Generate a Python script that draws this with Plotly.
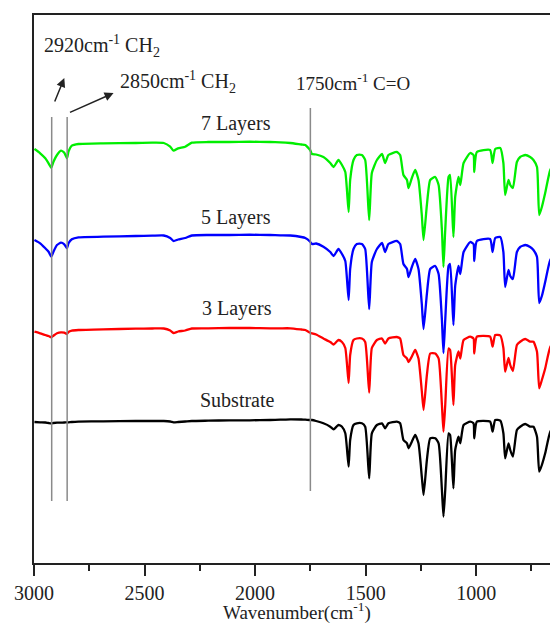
import plotly.graph_objects as go

# Wavenumber grid (cm-1)
wavenumber = [
    2998, 2972, 2949, 2934, 2922, 2912, 2896, 2878, 2863, 2851,
    2844, 2829, 2799, 2687, 2540, 2465, 2413, 2384, 2369, 2348,
    2316, 2286, 2212, 2117, 2024, 1932, 1886, 1841, 1791, 1773,
    1751, 1743, 1724, 1691, 1660, 1645, 1623, 1607, 1592, 1577,
    1570, 1555, 1540, 1517, 1502, 1484, 1472, 1449, 1426, 1412,
    1397, 1359, 1344, 1329, 1313, 1306, 1291, 1276, 1261, 1246,
    1238, 1223, 1208, 1185, 1170, 1155, 1148, 1140, 1125, 1118,
    1103, 1095, 1080, 1072, 1057, 1027, 1012, 1009, 997, 937,
    926, 914, 891, 877, 869, 854, 846, 834, 816, 801,
    778, 756, 741, 725, 715, 703, 688, 665, 643, 629,
]

# Offset transmittance (a.u.) of each spectrum
substrate = [
    141, 140.7, 140.5, 140, 139.7, 140, 140.3, 140.3, 140.5, 140.7,
    140.7, 141, 141.3, 141.7, 142, 142, 142, 141.5, 140.7, 141,
    141.5, 142, 142.3, 142.7, 142.7, 143, 143.3, 143.7, 143.5, 143.3,
    143, 143, 142, 139.7, 136.3, 133.7, 138, 136.3, 129.7, 96.3,
    123, 138, 139.7, 139.7, 136.3, 84.7, 129.7, 138, 139.7, 134.7,
    139.7, 141.3, 139.7, 123, 119.7, 114.7, 121.3, 128, 119.7, 86.3,
    68, 103, 124.7, 124.7, 119.7, 73, 46.3, 73, 129.7, 128,
    74.7, 113, 126.3, 119.7, 138, 141.3, 139.7, 124.7, 141.3, 141.3,
    131.3, 143, 142.3, 129.7, 104.7, 119.7, 113, 106.3, 133, 136.3,
    139, 136.3, 136.3, 126.3, 91.3, 98, 109.7, 131.3, 136.3, 138,
]
layers_3 = [
    231.3, 229.7, 228, 227, 225.7, 227.3, 229.7, 230.7, 230.3, 229,
    231, 232.3, 233, 233.7, 234.3, 234.5, 234.5, 232.5, 230, 231.5,
    232.5, 234.5, 234.7, 235, 235, 234.7, 234.7, 234.7, 233.5, 233,
    230.3, 229.7, 228.5, 224.5, 221, 218.5, 223, 221, 215, 180,
    208, 223, 224.5, 224.5, 221, 170.3, 215, 223, 224.5, 219.5,
    224.5, 226, 224.5, 208, 204.5, 201, 206.5, 213, 204.5, 172,
    153, 188, 209.5, 209.5, 204.5, 158, 131.3, 158, 214.5, 213,
    158, 198, 211.5, 204.5, 223, 226.3, 224.5, 209.5, 226.3, 226.3,
    216.3, 228, 227.5, 215, 191.3, 205, 198, 192, 218, 221.3,
    224, 221.3, 221.3, 211.3, 174.7, 183, 194.5, 216, 221, 218,
]
layers_5 = [
    323, 319.7, 314.7, 311.3, 306.3, 311.3, 318, 320.3, 318.7, 314.7,
    319.7, 323.7, 325.7, 326.3, 327, 327.3, 327.5, 325, 322, 323.5,
    325, 327.5, 328, 328, 328.3, 328, 327.7, 327.5, 326, 325,
    321.3, 319, 319.5, 316.3, 311, 307, 314, 309, 302, 263,
    294, 314, 319, 319, 314, 254, 301, 314, 320, 311,
    319, 322, 319, 299, 294, 286, 296, 304, 294, 259,
    234, 269, 294, 297, 289, 243, 210, 243, 297, 299,
    238, 277, 297, 289, 311, 321, 319, 302, 322, 324,
    311, 325, 326, 311, 276, 293, 287, 284, 311, 316,
    318, 316, 313, 306, 260, 267, 281, 303, 308, 306,
]
layers_7 = [
    414, 409.7, 404.7, 399.7, 395.3, 401.3, 408, 412.3, 410.3, 404.7,
    411.3, 417.3, 419, 419.7, 420, 420.3, 420, 416.3, 412.3, 414.7,
    416.3, 420.3, 421, 421, 421.3, 421, 420.7, 420, 418.5, 418,
    413, 409, 408.5, 406, 400, 396, 403, 398, 391, 351,
    383, 403, 408, 408, 403, 343, 390, 403, 409, 400,
    408, 411, 408, 388, 383, 375, 385, 393, 383, 348,
    323, 358, 383, 386, 378, 333, 296, 333, 386, 388,
    326, 366, 386, 378, 400, 410, 408, 391, 411, 413,
    400, 414, 415, 400, 368, 383, 378, 375, 401, 406,
    408, 406, 403, 396, 348, 356, 370, 393, 400, 400,
]

series_names = ["Substrate", "3 Layers", "5 Layers", "7 Layers"]
series_values = [substrate, layers_3, layers_5, layers_7]
series_colors = ["#000000", "#ff0000", "#0000ff", "#00ee00"]
label_wn = [2080, 2084, 2088, 2088]
label_y = [163, 255, 346, 440]

# Marker lines (wavenumber, bottom, top)
band_wn = [2920, 2850, 1750]
band_low = [62, 62, 72]
band_high = [446, 446, 455]

for v in series_values:
    assert len(v) == len(wavenumber)

FONT = "Liberation Serif, Times New Roman, serif"

fig = go.Figure()
for name, vals, col in zip(series_names, series_values, series_colors):
    fig.add_trace(go.Scatter(
        x=wavenumber, y=vals, mode="lines", name=name,
        line=dict(color=col, width=2.3, shape="spline", smoothing=0.5),
        showlegend=False,
    ))

for wn, lo, hi in zip(band_wn, band_low, band_high):
    fig.add_shape(type="line", xref="x", yref="y", x0=wn, x1=wn, y0=lo, y1=hi,
                  line=dict(color="#8a8a8a", width=1.5))

annotations = []
for name, xw, yv in zip(series_names, label_wn, label_y):
    annotations.append(dict(x=xw, y=yv, xref="x", yref="y", text=name, showarrow=False,
                            font=dict(family=FONT, size=20, color="#222"),
                            xanchor="center", yanchor="middle"))

annotations += [
    dict(x=2964, y=517, xref="x", yref="y", text="2920cm<sup>-1</sup> CH<sub>2</sub>",
         showarrow=False, xanchor="left", yanchor="middle",
         font=dict(family=FONT, size=20, color="#222")),
    dict(x=2619, y=481, xref="x", yref="y", text="2850cm<sup>-1</sup> CH<sub>2</sub>",
         showarrow=False, xanchor="left", yanchor="middle",
         font=dict(family=FONT, size=20, color="#222")),
    dict(x=1825, y=481, xref="x", yref="y", text="1750cm<sup>-1</sup> C=O",
         showarrow=False, xanchor="left", yanchor="middle",
         font=dict(family=FONT, size=19, color="#222")),
    dict(x=2863, y=485, xref="x", yref="y", ax=2909, ay=460, axref="x", ayref="y",
         text="", showarrow=True, arrowhead=2, arrowsize=1.2, arrowwidth=1.5, arrowcolor="#222"),
    dict(x=2640, y=470, xref="x", yref="y", ax=2844, ay=450, axref="x", ayref="y",
         text="", showarrow=True, arrowhead=2, arrowsize=1.2, arrowwidth=1.5, arrowcolor="#222"),
    dict(x=0.502, y=-0.089, xref="paper", yref="paper", text="Wavenumber(cm<sup>-1</sup>)",
         showarrow=False, xanchor="center", yanchor="middle",
         font=dict(family=FONT, size=19, color="#222")),
]

# The page body has an 8px default margin, so the figure is sized to fit the 558x625 window.
fig.update_layout(
    width=550, height=617,
    margin=dict(l=26, r=0, t=7, b=62),
    paper_bgcolor="white", plot_bgcolor="white",
    annotations=annotations,
    xaxis=dict(
        range=[3000, 630], autorange=False,
        tick0=0, dtick=500, tickformat="d",
        ticks="outside", ticklen=11, tickwidth=2, tickcolor="#222",
        minor=dict(tick0=0, dtick=250, ticks="outside", ticklen=6, tickwidth=2, tickcolor="#222"),
        showline=True, linewidth=2, linecolor="#222", mirror=True,
        showgrid=False, zeroline=False,
        tickfont=dict(family=FONT, size=20, color="#222"),
    ),
    yaxis=dict(
        range=[0, 548], autorange=False,
        showticklabels=False, ticks="",
        showline=True, linewidth=2, linecolor="#222", mirror=False,
        showgrid=False, zeroline=False,
    ),
)

fig.write_html("out.html")
